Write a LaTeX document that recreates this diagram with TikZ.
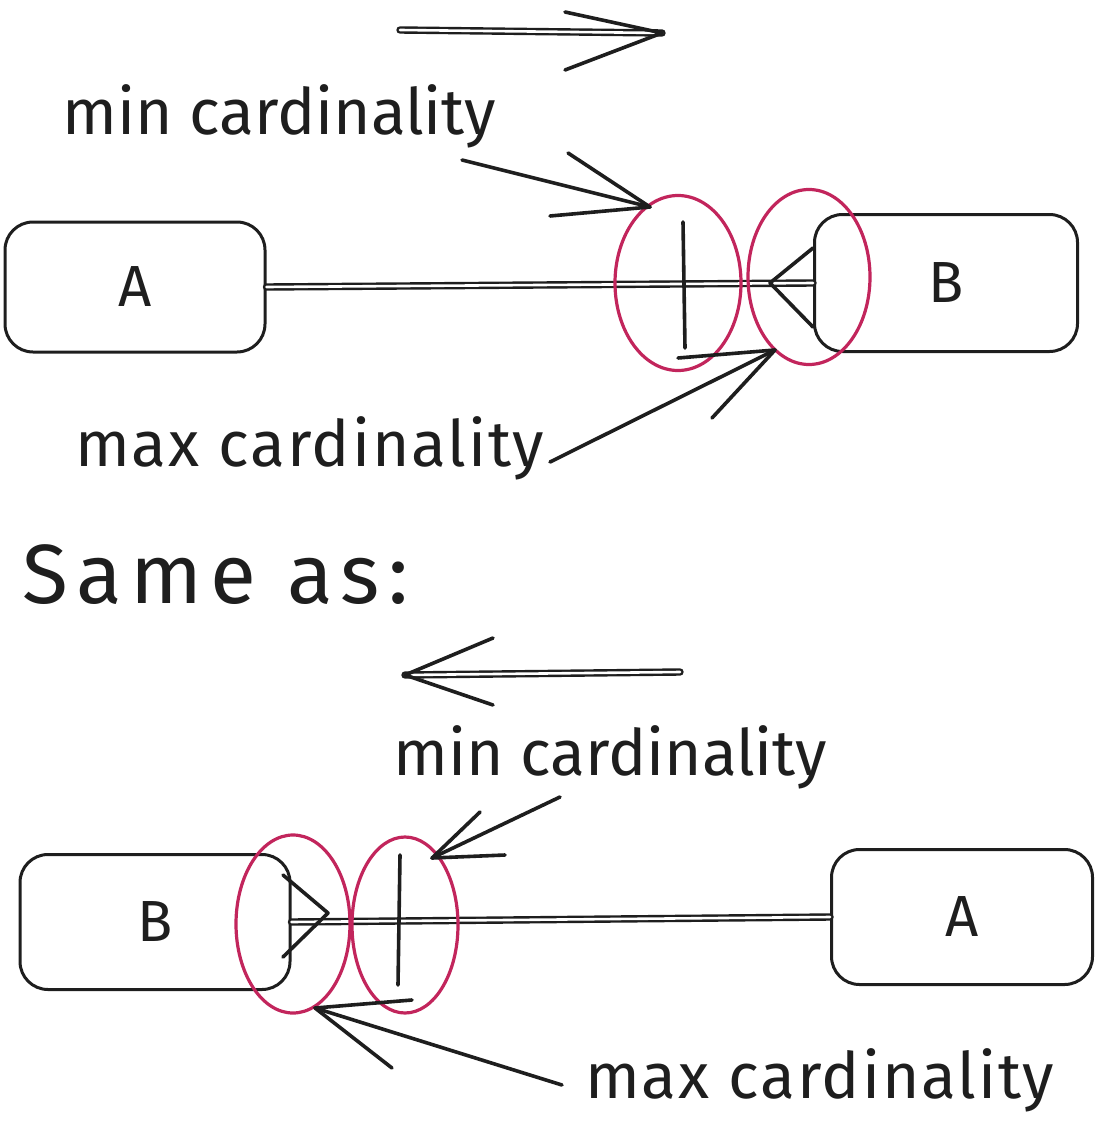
\documentclass[tikz,border=0pt]{standalone}
\usepackage{fontspec}
\setmainfont{Fira Sans}
\usetikzlibrary{shapes.geometric}
\definecolor{ink}{HTML}{1E1E1E}
\definecolor{mark}{HTML}{C2255C}

\begin{document}
\begin{tikzpicture} [x=1pt, y=-1pt, line cap=round, line join=round, entity/.style={rectangle, draw=ink, line width=3pt, rounded corners=28pt, text=ink, font=\fontsize{58}{60}\selectfont}, note/.style={text=ink, inner sep=0pt, font=\fontsize{64}{66}\selectfont}, wide note/.style={note, font=\fontsize{64}{66}\selectfont\addfontfeatures{LetterSpace=3}}, ring/.style={ellipse, draw=mark, line width=3.2pt, inner sep=0pt}, link/.style={draw=ink, line width=2.4pt, double distance=2.6pt}, stroke/.style={draw=ink, line width=3.6pt}]
  \useasboundingbox (0,0) rectangle (1100,1129);
  % Top diagram
  \node [entity, minimum width=260pt, minimum height=130pt] (topA) at (135,287) {A};
  \node [entity, minimum width=263pt, minimum height=137pt] (topB) at (946,283) {B};
  \draw [link] (topA.east) -- (topB.west);
  \draw [stroke] (683,222) -- (685,348);
  \draw [stroke] (813,248) -- (770,283) -- (813,327);
  \node [ring, minimum width=126pt, minimum height=175pt] (topMin) at (678,283) {};
  \node [ring, minimum width=122pt, minimum height=175pt] (topMax) at (809,277) {};
  % direction arrow
  \coordinate (topDirTail) at (400,30);
  \coordinate (topDirTip) at (662,33);
  \draw [link] (topDirTail) -- (topDirTip);
  \draw [stroke] (565,12) -- (topDirTip) -- (565,70);
  % labels
  \node [note, anchor=base west] (topMinText) at (62,135) {min cardinality};
  \node [wide note, anchor=base west] (topMaxText) at (75,466) {max cardinality};
  \coordinate (topMinTail) at (462,160);
  \coordinate (topMinTip) at (650,207);
  \draw [stroke] (topMinTail) -- (topMinTip);
  \draw [stroke] (568,153) -- (topMinTip) -- (550,216);
  \coordinate (topMaxTail) at (550,462);
  \coordinate (topMaxTip) at (775,350);
  \draw [stroke] (topMaxTail) -- (topMaxTip);
  \draw [stroke] (678,358) -- (topMaxTip) -- (712,418);

  \node [note, anchor=base west, font=\fontsize{84}{86}\selectfont\addfontfeatures{LetterSpace=10}] (same) at (22,603) {Same as:};

  % Bottom diagram
  \node [entity, minimum width=270pt, minimum height=135pt] (botB) at (155,922) {B};
  \node [entity, minimum width=261pt, minimum height=135pt] (botA) at (962,917) {A};
  \draw [link] (botB.east) -- (botA.west);
  \draw [stroke] (400,855) -- (398,985);
  \draw [stroke] (283,875) -- (328,913) -- (283,957);
  \node [ring, minimum width=114pt, minimum height=178pt] (botMax) at (293,924) {};
  \node [ring, minimum width=106pt, minimum height=176pt] (botMin) at (405,925) {};
  % direction arrow
  \coordinate (botDirTail) at (680,672);
  \coordinate (botDirTip) at (405,675);
  \draw [link] (botDirTail) -- (botDirTip);
  \draw [stroke] (493,638) -- (botDirTip) -- (493,705);
  % labels
  \node [note, anchor=base west] (botMinText) at (393,775) {min cardinality};
  \node [wide note, anchor=base west] (botMaxText) at (585,1098) {max cardinality};
  \coordinate (botMinTail) at (560,797);
  \coordinate (botMinTip) at (432,858);
  \draw [stroke] (botMinTail) -- (botMinTip);
  \draw [stroke] (480,812) -- (botMinTip) -- (505,855);
  \coordinate (botMaxTail) at (562,1085);
  \coordinate (botMaxTip) at (315,1008);
  \draw [stroke] (botMaxTail) -- (botMaxTip);
  \draw [stroke] (412,1000) -- (botMaxTip) -- (392,1068);
\end{tikzpicture}
\end{document}
